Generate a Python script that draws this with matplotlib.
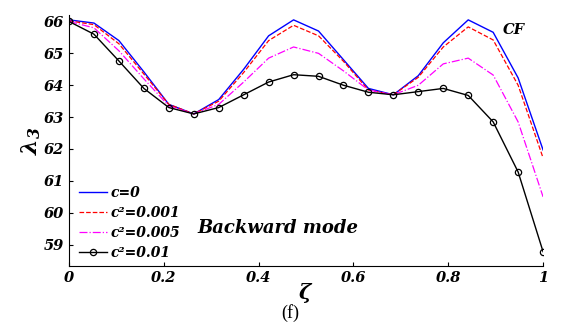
import numpy as np
import matplotlib.pyplot as plt

# data (20 points on zeta in [0, 1])
zeta = np.linspace(0, 1, 20)
lam_c0 = [66.05, 65.95, 65.4, 64.42, 63.4, 63.1, 63.55, 64.5, 65.55, 66.05,
          65.7, 64.8, 63.9, 63.7, 64.3, 65.33, 66.05, 65.66, 64.23, 61.97]
lam_c001 = [66.02, 65.9, 65.3, 64.35, 63.4, 63.1, 63.5, 64.4, 65.4, 65.88,
            65.55, 64.75, 63.85, 63.7, 64.25, 65.2, 65.83, 65.42, 64.0, 61.72]
lam_c005 = [66.0, 65.8, 65.08, 64.2, 63.35, 63.1, 63.4, 64.1, 64.85, 65.2,
            65.0, 64.45, 63.85, 63.7, 64.0, 64.67, 64.85, 64.32, 62.85, 60.5]
lam_c01 = [66.0, 65.6, 64.76, 63.9, 63.3, 63.1, 63.3, 63.7, 64.1, 64.33,
           64.28, 64.0, 63.78, 63.7, 63.8, 63.9, 63.68, 62.85, 61.28, 58.78]
labels = ['c=0', 'c\u00b2=0.001', 'c\u00b2=0.005', 'c\u00b2=0.01']

plt.rcParams['font.family'] = 'DejaVu Serif'
plt.rcParams['mathtext.fontset'] = 'custom'
plt.rcParams['mathtext.it'] = 'DejaVu Serif:italic:bold'
plt.rcParams['mathtext.rm'] = 'DejaVu Serif:italic:bold'
plt.rcParams['mathtext.bf'] = 'DejaVu Serif:italic:bold'
bi = dict(fontweight='bold', fontstyle='italic')

fig = plt.figure(figsize=(5.63, 3.28), dpi=100)
ax = fig.add_axes([0.1226, 0.189, 0.842, 0.765])

ax.plot(zeta, lam_c0, '-', color='blue', lw=1.0, label=labels[0])
ax.plot(zeta, lam_c001, '--', color='red', lw=0.9, label=labels[1])
ax.plot(zeta, lam_c005, '-.', color='magenta', lw=0.9, label=labels[2])
ax.plot(zeta, lam_c01, '-', color='black', lw=1.0, marker='o', ms=4.5,
        mfc='none', mec='black', mew=0.9, label=labels[3])

ax.set_xlim(0, 1)
ax.set_ylim(58.33, 66.2)
ax.set_xticks([0, 0.2, 0.4, 0.6, 0.8, 1])
ax.set_xticklabels(['0', '0.2', '0.4', '0.6', '0.8', '1'], **bi)
ax.set_yticks(range(59, 67))
ax.set_yticklabels([str(v) for v in range(59, 67)], **bi)
ax.tick_params(direction='in', length=3, labelsize=10.5, width=0.8)
ax.spines['top'].set_visible(False)
ax.spines['right'].set_visible(False)

ax.set_xlabel('$\\zeta$', fontsize=15, labelpad=-3)
ax.set_ylabel('$\\lambda_3$', fontsize=16, labelpad=1)

ax.text(0.915, 65.62, 'CF', fontsize=10.5, **bi)
ax.text(0.27, 59.38, 'Backward mode', fontsize=13, **bi)

leg = ax.legend(loc='lower left', bbox_to_anchor=(-0.005, -0.025), frameon=False,
                prop=dict(size=10, weight='bold', style='italic'),
                handlelength=2.0, handletextpad=0.25, labelspacing=0.42)

fig.text(0.515, 0.03, '(f)', fontsize=13, family='Liberation Serif', ha='center')

fig.savefig('out.png', dpi=100)
